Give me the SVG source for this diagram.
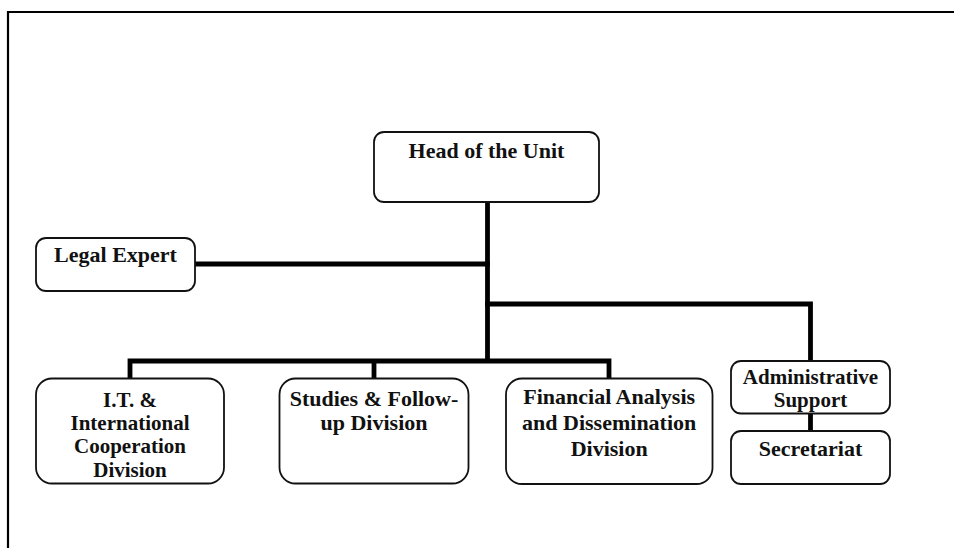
<svg xmlns="http://www.w3.org/2000/svg" width="954" height="548" viewBox="0 0 954 548">
<style>
.box{fill:#fff;stroke:#111;stroke-width:1.8}
.t{font-family:"Liberation Serif","Times New Roman",serif;font-weight:bold;font-size:22px;fill:#111;text-anchor:middle}
.s21{font-size:21px}
.c{fill:none;stroke:#000;stroke-width:4.8;stroke-linejoin:miter;stroke-linecap:butt}
</style>
<rect width="954" height="548" fill="#fff"/>
<path d="M8,548 V12 H954" fill="none" stroke="#000" stroke-width="2.2"/>
<g id="connectors">
<path class="c" d="M487.5,202 V363"/>
<path class="c" d="M195,264 H490"/>
<path class="c" d="M485,304 H810.5 V361"/>
<path class="c" d="M130,379 V361 H609 V379"/>
<path class="c" d="M374,361 V379"/>
<path class="c" d="M810.5,413 V431"/>
</g>
<g id="head">
<rect class="box" x="374" y="132" width="225" height="70" rx="10"/>
<text class="t" x="486.5" y="157.5">Head of the Unit</text>
</g>
<g id="legal">
<rect class="box" x="36" y="238" width="159" height="53" rx="10"/>
<text class="t" x="115.5" y="261.7">Legal Expert</text>
</g>
<g id="it">
<rect class="box" x="36" y="378.5" width="188" height="105" rx="16"/>
<text class="t s21" x="130" y="406.5">I.T. &amp;</text>
<text class="t s21" x="130" y="429.8">International</text>
<text class="t s21" x="130" y="453.2">Cooperation</text>
<text class="t s21" x="130" y="476.6">Division</text>
</g>
<g id="studies">
<rect class="box" x="279.5" y="378.5" width="189" height="105" rx="16"/>
<text class="t" x="374" y="406">Studies &amp; Follow-</text>
<text class="t" x="374" y="429.5">up Division</text>
</g>
<g id="financial">
<rect class="box" x="506" y="378.5" width="206.5" height="105.5" rx="16"/>
<text class="t" x="609.2" y="403.5">Financial Analysis</text>
<text class="t" x="609.2" y="430">and Dissemination</text>
<text class="t" x="609.2" y="456">Division</text>
</g>
<g id="admin">
<rect class="box" x="731" y="361" width="159" height="52.5" rx="10"/>
<text class="t s21" x="810.5" y="384">Administrative</text>
<text class="t s21" x="810.5" y="407">Support</text>
</g>
<g id="secretariat">
<rect class="box" x="731" y="431" width="159" height="53" rx="10"/>
<text class="t" x="810.5" y="456">Secretariat</text>
</g>
</svg>
